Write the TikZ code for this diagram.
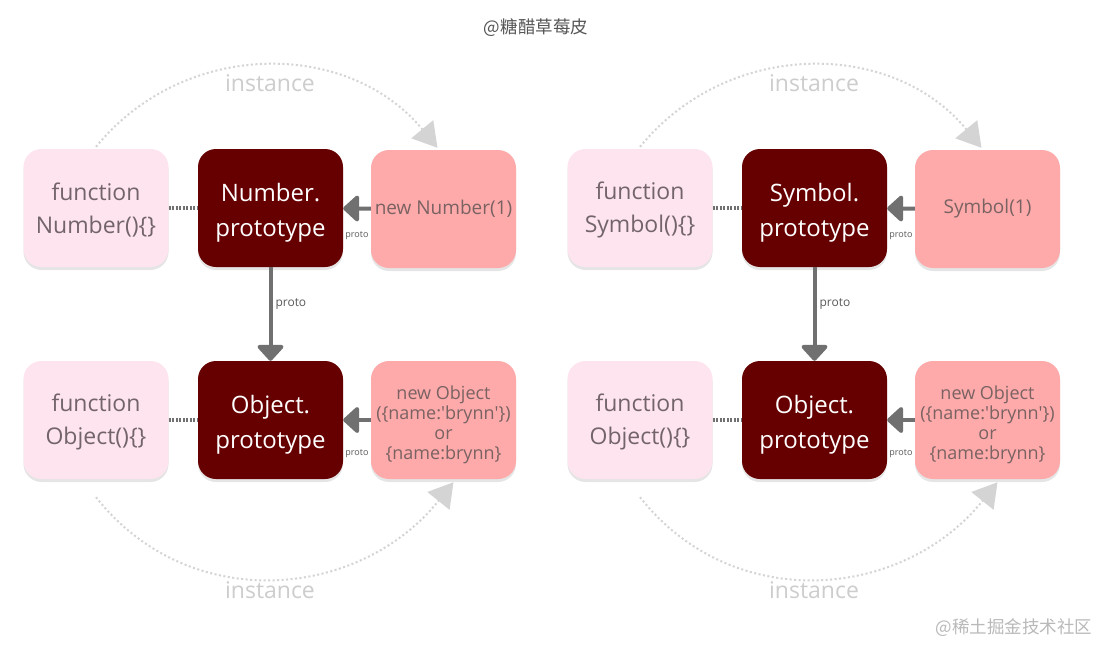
\documentclass[tikz,border=0pt]{standalone}
\usepackage{fontspec}
\setmainfont{Open Sans}
\newfontfamily\cjk{Noto Sans CJK SC}
\usetikzlibrary{arrows.meta,shadows}
\definecolor{fnfill}{RGB}{253,228,239}
\definecolor{fntext}{RGB}{115,100,108}
\definecolor{protofill}{RGB}{102,0,0}
\definecolor{instfill}{RGB}{254,170,170}
\definecolor{insttext}{RGB}{122,98,98}
\definecolor{linkgray}{RGB}{112,112,112}
\definecolor{arcgray}{RGB}{212,212,212}
\definecolor{insttxt}{RGB}{205,205,205}
\definecolor{titlegray}{RGB}{85,85,85}
\definecolor{markgray}{RGB}{185,185,185}
\newcommand\padtop[1]{\rule{0pt}{#1}}
\begin{document}
\begin{tikzpicture}[x=1pt,y=-1pt,
  box/.style={rounded corners=18pt, minimum width=145pt, minimum height=118pt,
    inner sep=0pt, align=center,
    drop shadow={shadow xshift=0pt,shadow yshift=-3pt,opacity=0.10,fill=black}},
  fnbox/.style={box, fill=fnfill, text=fntext, font=\fontsize{23}{33}\selectfont},
  protobox/.style={box, fill=protofill, text=white, font=\fontsize{24}{35}\selectfont},
  instbox/.style={box, fill=instfill, text=insttext, font=\fontsize{18}{20}\selectfont},
  protolink/.style={draw=linkgray, line width=4pt,
    -{Triangle[width=30pt,length=17pt,round]}},
  ctorlink/.style={draw=linkgray, line width=4pt, dash pattern=on 2pt off 1.5pt},
  instarc/.style={draw=arcgray, line width=2pt, dash pattern=on 2pt off 2.5pt,
    -{Triangle[width=28pt,length=24pt,fill=arcgray]}},
  instlbl/.style={text=insttxt, font=\fontsize{23}{26}\selectfont},
  hproto/.style={text=linkgray!80!black, font=\fontsize{9}{10}\selectfont, inner sep=0pt},
  vproto/.style={text=linkgray!80!black, font=\fontsize{12}{13}\selectfont, inner sep=0pt}
]
\fill[white] (0,0) rectangle (1101,645);
\useasboundingbox (0,0) rectangle (1101,645);

\node[text=titlegray, font=\cjk\fontsize{17.5}{20}\selectfont] (title) at (536,28) {@糖醋草莓皮};
\node[text=markgray, font=\cjk\fontsize{17.5}{20}\selectfont] (mark) at (1014,628) {@稀土掘金技术社区};

% left group
\node[fnbox] (fn1) at (96,208) {\padtop{22pt}function\\Number()\{\}};
\node[protobox] (np) at (270.5,208) {\padtop{28pt}Number.\\prototype};
\node[instbox, font=\fontsize{19}{22}\selectfont] (nn) at (443.5,209) {new Number(1)};
\node[fnbox] (fo1) at (96,420) {\padtop{22pt}function\\Object()\{\}};
\node[protobox] (op1) at (270.5,420) {\padtop{28pt}Object.\\prototype};
\node[instbox] (ob1) at (443.5,420) {\padtop{23pt}new Object\\(\{name:\textquotesingle brynn\textquotesingle\})\\or\\\{name:brynn\}};

\draw[ctorlink] (fn1) -- (np);
\draw[ctorlink] (fo1) -- (op1);
\draw[protolink] (nn) -- (np) node[hproto, midway, yshift=-27pt] {proto};
\draw[protolink] (ob1) -- (op1) node[hproto, midway, yshift=-34pt] {proto};
\draw[protolink] (np) -- (op1) node[vproto, midway, anchor=west, xshift=3pt, yshift=10pt] {proto};

\draw[instarc] ([yshift=2pt]fn1.north) .. controls (184,39) and (348,39) .. ([xshift=-6pt,yshift=2pt]nn.north);
\draw[instarc] ([yshift=-18pt]fo1.south) .. controls (189,615) and (359,600) .. ([xshift=10pt,yshift=-3pt]ob1.south);
\node[instlbl] (i1) at (270,83) {instance};
\node[instlbl] (i2) at (270,590) {instance};

% right group
\node[fnbox] (fn2) at (640,208) {\padtop{22pt}function\\Symbol()\{\}};
\node[protobox] (sp) at (814.5,208) {\padtop{28pt}Symbol.\\prototype};
\node[instbox, font=\fontsize{19}{22}\selectfont] (s1) at (987.5,209) {Symbol(1)};
\node[fnbox] (fo2) at (640,420) {\padtop{22pt}function\\Object()\{\}};
\node[protobox] (op2) at (814.5,420) {\padtop{28pt}Object.\\prototype};
\node[instbox] (ob2) at (987.5,420) {\padtop{23pt}new Object\\(\{name:\textquotesingle brynn\textquotesingle\})\\or\\\{name:brynn\}};

\draw[ctorlink] (fn2) -- (sp);
\draw[ctorlink] (fo2) -- (op2);
\draw[protolink] (s1) -- (sp) node[hproto, midway, yshift=-27pt] {proto};
\draw[protolink] (ob2) -- (op2) node[hproto, midway, yshift=-34pt] {proto};
\draw[protolink] (sp) -- (op2) node[vproto, midway, anchor=west, xshift=3pt, yshift=10pt] {proto};

\draw[instarc] ([yshift=2pt]fn2.north) .. controls (728,39) and (892,39) .. ([xshift=-6pt,yshift=2pt]s1.north);
\draw[instarc] ([yshift=-18pt]fo2.south) .. controls (733,615) and (903,600) .. ([xshift=10pt,yshift=-3pt]ob2.south);
\node[instlbl] (i3) at (814,83) {instance};
\node[instlbl] (i4) at (814,590) {instance};
\end{tikzpicture}
\end{document}
